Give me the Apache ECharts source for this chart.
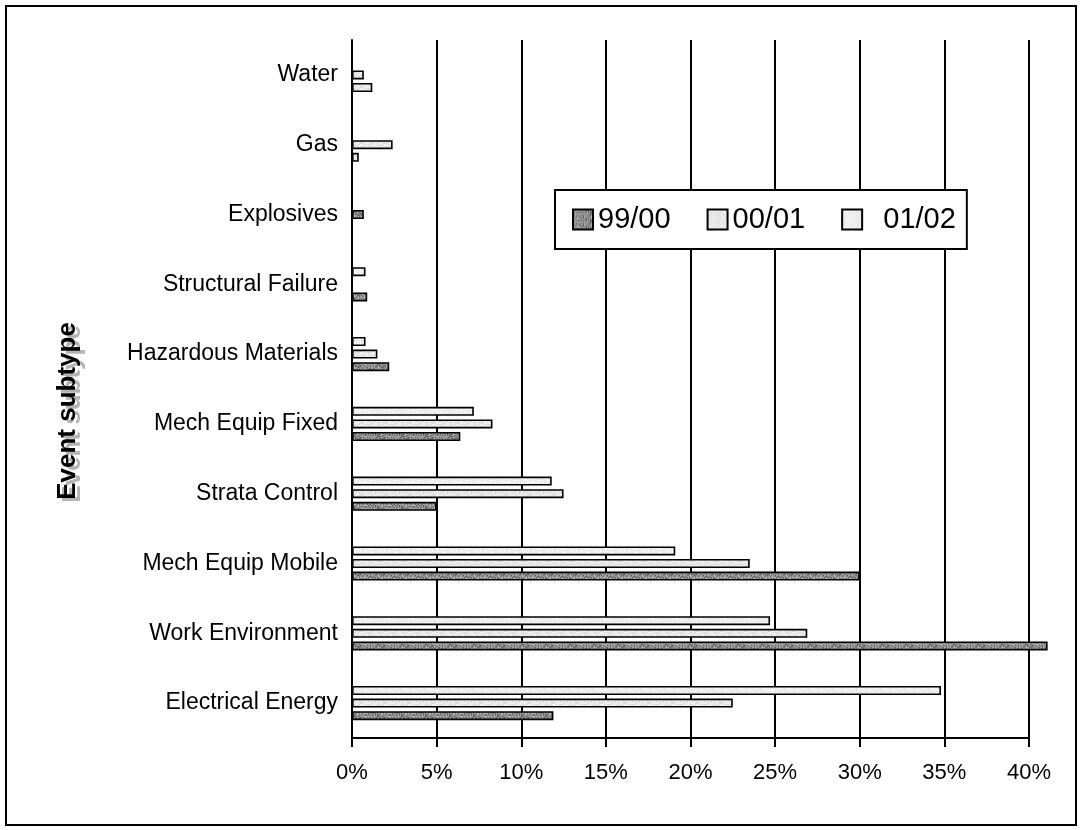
<!DOCTYPE html>
<html>
<head>
<meta charset="utf-8">
<script src="https://cdn.jsdelivr.net/npm/echarts@6/dist/echarts.min.js"></script>
<style>
  html, body { margin: 0; padding: 0; background: #fff; }
  #chart { width: 1080px; height: 830px; }
</style>
</head>
<body>
<div id="chart"></div>
<script>
// Event subtypes, listed from the bottom of the chart upwards
const categories = ['Electrical Energy', 'Work Environment', 'Mech Equip Mobile', 'Strata Control',
  'Mech Equip Fixed', 'Hazardous Materials', 'Structural Failure', 'Explosives', 'Gas', 'Water'];

// Share of events per financial year (%)
const share9900 = [11.9, 41.1, 30.0, 5.0, 6.4, 2.2, 0.9, 0, 0.4, 1.2];
const share0001 = [22.5, 26.9, 23.5, 12.5, 8.3, 1.5, 0, 0.7, 2.4, 0.7];
const share0102 = [34.8, 24.7, 19.1, 11.8, 7.2, 0.8, 0.8, 0, 0, 0];

const seriesNames = ['99/00', '00/01', '01/02'];
const xTickValues = [0, 5, 10, 15, 20, 25, 30, 35, 40];

// Mottled grey fills built on small canvases (deterministic hash noise)
function hash(x, y, s) {
  let h = (x * 374761393 + y * 668265263 + s * 1442695041) | 0;
  h = Math.imul(h ^ (h >>> 13), 1274126177);
  h = h ^ (h >>> 16);
  return ((h >>> 0) % 1000) / 1000;
}
function makeFill(base, spread, seed) {
  const w = 24, h = 8;
  const c = document.createElement('canvas');
  c.width = w; c.height = h;
  const ctx = c.getContext('2d');
  for (let y = 0; y < h; y++) {
    for (let x = 0; x < w; x++) {
      const v = Math.max(0, Math.min(255, Math.round(base + (hash(x, y, seed) - 0.5) * spread)));
      ctx.fillStyle = 'rgb(' + v + ',' + v + ',' + v + ')';
      ctx.fillRect(x, y, 1, 1);
    }
  }
  return { image: c, repeat: 'repeat' };
}
const fills = [makeFill(138, 100, 1), makeFill(232, 30, 2), makeFill(238, 26, 3)];
const seriesData = [share9900, share0001, share0102];

// A few small bars in the upper rows carry a different fill than their series
const fillOverrides = { '1-7': 0, '0-8': 1, '0-9': 1 };

function buildData(si) {
  return seriesData[si].map(function (v, ci) {
    const o = fillOverrides[si + '-' + ci];
    return o === undefined ? v : { value: v, itemStyle: { color: fills[o] } };
  });
}

const chart = echarts.init(document.getElementById('chart'), null, { renderer: 'canvas' });

const font = '"Liberation Sans", Arial, sans-serif';

// Within each row the 99/00 bar sits lowest, so the series are added top-down
const order = [2, 1, 0];

chart.setOption({
  animation: false,
  backgroundColor: '#fff',
  grid: { left: 352, right: 51, top: 40, bottom: 92, containLabel: false },
  legend: {
    data: seriesNames,
    left: 555,
    top: 190,
    orient: 'horizontal',
    icon: 'rect',
    itemWidth: 20,
    itemHeight: 20,
    itemGap: 36,
    padding: [15, 11, 15, 17],
    borderColor: '#000',
    borderWidth: 2,
    backgroundColor: '#fff',
    formatter: function (name) { return name === '01/02' ? '  ' + name : name; },
    textStyle: { fontFamily: font, fontSize: 29, color: '#000' }
  },
  xAxis: {
    type: 'value',
    min: 0,
    max: 40,
    interval: 5,
    axisLine: { show: true, lineStyle: { color: '#000', width: 2 } },
    axisTick: { show: true, length: 9, lineStyle: { color: '#000', width: 2 } },
    axisLabel: {
      margin: 24,
      fontFamily: font, fontSize: 22, color: '#000',
      formatter: function (v) { return xTickValues.indexOf(v) >= 0 ? v + '%' : ''; }
    },
    splitLine: { show: true, lineStyle: { color: '#000', width: 2 } }
  },
  yAxis: {
    type: 'category',
    data: categories,
    axisLine: { show: true, lineStyle: { color: '#000', width: 2 } },
    axisTick: { show: false },
    axisLabel: { margin: 14, fontFamily: font, fontSize: 23, color: '#000' },
    splitLine: { show: false }
  },
  series: order.map(function (i) {
    return {
      name: seriesNames[i],
      type: 'bar',
      data: buildData(i),
      barWidth: 9,
      barGap: '40%',
      clip: false,
      itemStyle: { color: fills[i], borderColor: '#000', borderWidth: 1.6 }
    };
  }),
  graphic: [
    {
      type: 'rect',
      shape: { x: 6, y: 6, width: 1070, height: 819 },
      style: { fill: 'none', stroke: '#000', lineWidth: 2 },
      z: 100
    },
    {
      type: 'text',
      x: 73,
      y: 414,
      rotation: Math.PI / 2,
      style: {
        text: 'Event subtype',
        fontFamily: font, fontWeight: 'bold', fontSize: 26,
        fill: '#b4b4b4', align: 'center', verticalAlign: 'middle'
      }
    },
    {
      type: 'text',
      x: 68,
      y: 411,
      rotation: Math.PI / 2,
      style: {
        text: 'Event subtype',
        fontFamily: font, fontWeight: 'bold', fontSize: 26,
        fill: '#000', align: 'center', verticalAlign: 'middle'
      }
    }
  ]
});
</script>
</body>
</html>
